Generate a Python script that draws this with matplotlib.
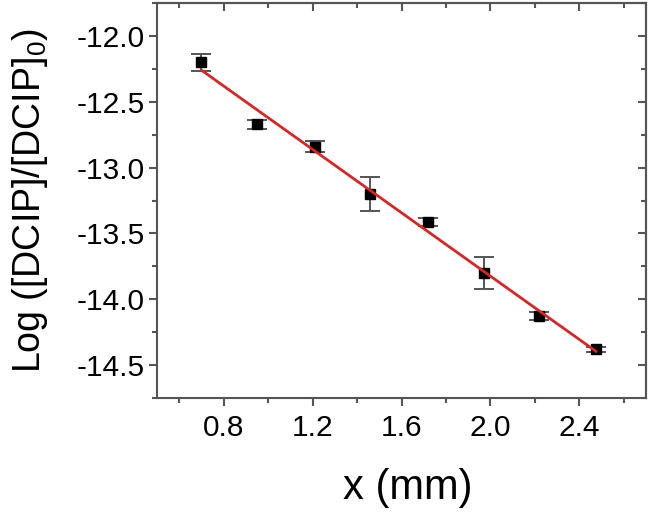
import numpy as np
import matplotlib
matplotlib.use("Agg")
import matplotlib.pyplot as plt
from matplotlib.ticker import MultipleLocator

# data
x_mm = [0.70, 0.95, 1.21, 1.46, 1.72, 1.97, 2.22, 2.475]
log_ratio = [-12.20, -12.67, -12.84, -13.20, -13.41, -13.80, -14.13, -14.38]
err = [0.065, 0.035, 0.04, 0.13, 0.03, 0.12, 0.03, 0.02]
xticks = [0.8, 1.2, 1.6, 2.0, 2.4]
yticks = [-12.0, -12.5, -13.0, -13.5, -14.0, -14.5]

plt.rcParams['font.family'] = ['Liberation Sans', 'DejaVu Sans']
plt.rcParams['mathtext.fontset'] = 'custom'
plt.rcParams['mathtext.rm'] = 'Liberation Sans'
plt.rcParams['mathtext.it'] = 'Liberation Sans'

fig = plt.figure(figsize=(6.52, 5.15), dpi=100)
ax = fig.add_axes([157/652, 1-398/515, (646-157)/652, (398-3)/515])

spine_c = '#555555'
err_c = '#555555'

ax.errorbar(x_mm, log_ratio, yerr=err, fmt='none', ecolor=err_c,
            elinewidth=1.4, capsize=7, capthick=1.4, zorder=2)
ax.plot(x_mm, log_ratio, 's', color='black', markersize=6.5, zorder=3)

coef = np.polyfit(x_mm, log_ratio, 1)
xf = np.array([min(x_mm), max(x_mm)])
ax.plot(xf, np.polyval(coef, xf), color='#d62628', lw=2, zorder=4)

ax.set_xlim(0.5, 2.7)
ax.set_ylim(-14.75, -11.75)
ax.set_xticks(xticks)
ax.set_yticks(yticks)
ax.set_xticklabels([f"{v:.1f}" for v in xticks])
ax.set_yticklabels([f"{v:.1f}" for v in yticks])
ax.xaxis.set_minor_locator(MultipleLocator(0.2))
ax.yaxis.set_minor_locator(MultipleLocator(0.25))

for s in ax.spines.values():
    s.set_color(spine_c)
    s.set_linewidth(1.5)

ax.tick_params(which='major', direction='out', length=6, width=1.5,
               color=spine_c, labelsize=21.5, labelcolor='black')
ax.tick_params(which='minor', direction='out', length=3.5, width=1.5,
               color=spine_c)
ax.tick_params(axis='x', which='major', pad=5.3)
ax.tick_params(axis='y', which='major', pad=3)

top = ax.secondary_xaxis('top')
top.set_xticks(xticks)
top.xaxis.set_minor_locator(MultipleLocator(0.2))
top.tick_params(which='major', direction='in', length=6, width=1.5,
                color=spine_c, labeltop=False)
top.tick_params(which='minor', direction='in', length=3.5, width=1.5,
                color=spine_c)
top.spines['top'].set_color(spine_c)
top.spines['top'].set_linewidth(1.5)

right = ax.secondary_yaxis('right')
right.set_yticks(yticks)
right.yaxis.set_minor_locator(MultipleLocator(0.25))
right.tick_params(which='major', direction='in', length=6, width=1.5,
                  color=spine_c, labelright=False)
right.tick_params(which='minor', direction='in', length=3.5, width=1.5,
                  color=spine_c)
right.spines['right'].set_color(spine_c)
right.spines['right'].set_linewidth(1.5)

ax.set_xlabel('x (mm)', fontsize=30)
ax.set_ylabel(r'Log ([DCIP]/[DCIP]$_0$)', fontsize=27)
ax.xaxis.set_label_coords((408-157)/489, (398-468)/395)
ax.yaxis.set_label_coords((50-157)/489, 0.5)

fig.savefig('out.png', dpi=100)
